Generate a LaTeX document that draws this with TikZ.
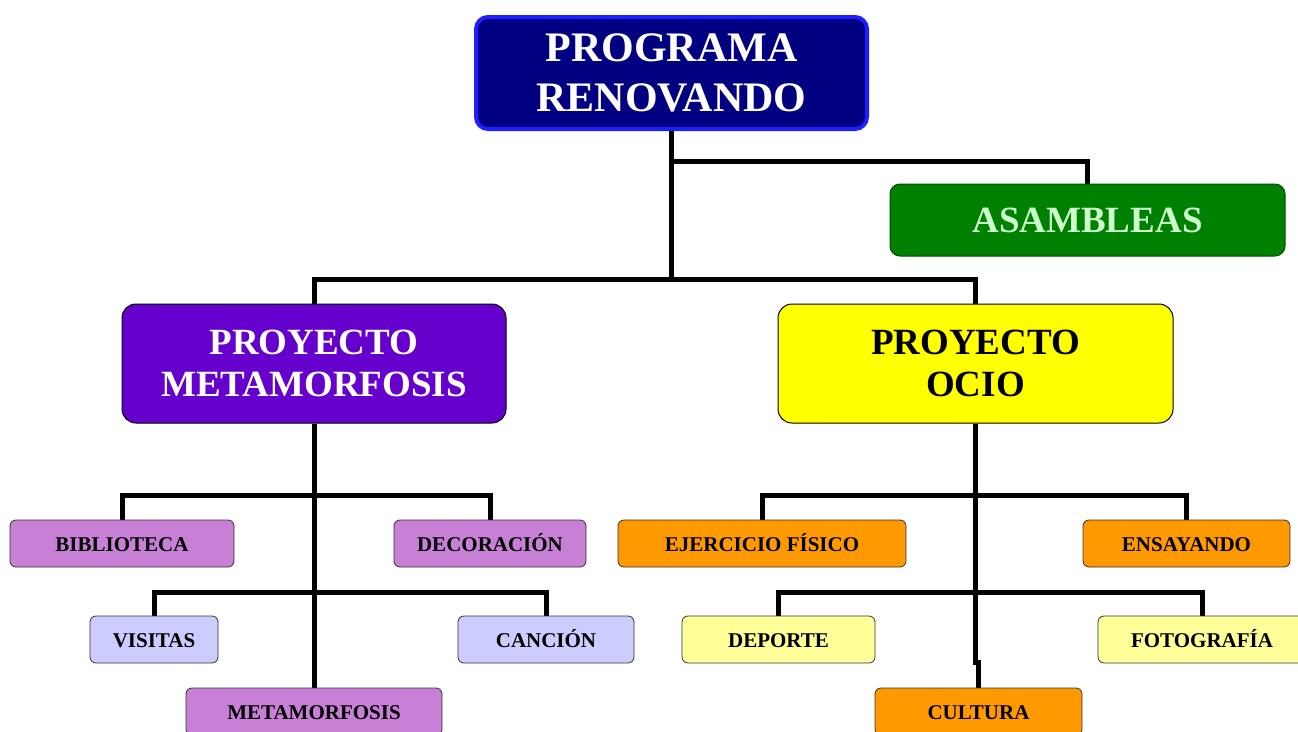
\documentclass[tikz,border=0pt]{standalone}
\usepackage{fontspec}
\setmainfont{Liberation Serif}
\usetikzlibrary{backgrounds}
\definecolor{navybox}{RGB}{0,0,128}
\definecolor{navyedge}{RGB}{30,30,255}
\definecolor{greenbox}{RGB}{0,128,0}
\definecolor{greentext}{RGB}{204,255,204}
\definecolor{purplebox}{RGB}{102,0,204}
\definecolor{yellowbox}{RGB}{255,255,0}
\definecolor{lilacbox}{RGB}{200,128,214}
\definecolor{bluebox}{RGB}{204,204,255}
\definecolor{orangebox}{RGB}{255,153,0}
\definecolor{paleyellow}{RGB}{255,255,153}
\tikzset{
  bigbox/.style={draw=black, line width=1pt, rounded corners=14pt, inner sep=0pt, align=center,
    font=\fontsize{37}{42}\selectfont\bfseries},
  smallbox/.style={draw=black!80, line width=0.8pt, rounded corners=6pt, inner sep=0pt, align=center,
    minimum height=47pt, text height=15pt, text depth=0pt, font=\fontsize{21}{24}\selectfont\bfseries},
  conn/.style={line width=5pt, line join=miter, line cap=butt}
}
\begin{document}
\begin{tikzpicture}[x=1pt,y=-1pt]
\useasboundingbox (0,0) rectangle (1298,731);
\clip (0,0) rectangle (1298,731);

\node[draw=navyedge, fill=navybox, line width=4pt, rounded corners=12pt, inner sep=0pt,
  minimum width=391pt, minimum height=112pt, text=white, align=center,
  font=\fontsize{42}{50}\selectfont\bfseries] (top) at (671.5,73) {PROGRAMA\\RENOVANDO};

\node[bigbox, draw=black!70!green, fill=greenbox, text=greentext, rounded corners=10pt,
  minimum width=395pt, minimum height=72pt] (asam) at (1087.5,220) {ASAMBLEAS};

\node[bigbox, fill=purplebox, text=white, minimum width=384pt, minimum height=119pt] (pm) at (314,363.5) {PROYECTO\\METAMORFOSIS};
\node[bigbox, fill=yellowbox, text=black, minimum width=395pt, minimum height=119pt] (po) at (975.5,363.5) {PROYECTO\\OCIO};

\node[smallbox, fill=lilacbox, minimum width=224pt] (bib) at (122,543.5) {BIBLIOTECA};
\node[smallbox, fill=lilacbox, minimum width=192pt] (deco) at (490,543.5) {DECORACIÓN};
\node[smallbox, fill=bluebox, minimum width=128pt] (vis) at (154,639.5) {VISITAS};
\node[smallbox, fill=bluebox, minimum width=176pt] (can) at (546,639.5) {CANCIÓN};
\node[smallbox, fill=lilacbox, minimum width=256pt] (meta) at (314,711.5) {METAMORFOSIS};

\node[smallbox, fill=orangebox, minimum width=288pt] (ejer) at (762,543.5) {EJERCICIO FÍSICO};
\node[smallbox, fill=orangebox, minimum width=207pt] (ens) at (1186.5,543.5) {ENSAYANDO};
\node[smallbox, fill=paleyellow, minimum width=193pt] (dep) at (778.5,639.5) {DEPORTE};
\node[smallbox, fill=paleyellow, minimum width=208pt] (foto) at (1202,639.5) {FOTOGRAFÍA};
\node[smallbox, fill=orangebox, minimum width=207pt] (cult) at (978.5,711.5) {CULTURA};

\begin{scope}[on background layer]
  \draw[conn] (top.south) -- ++(0,30) -| (asam.north);
  \draw[conn] (top.south) -- ++(0,148) coordinate (j1);
  \draw[conn] (j1) -| (pm.north);
  \draw[conn] (j1) -| (po.north);

  \draw[conn] (pm.south) -- (meta.north);
  \path (pm.south) ++(0,72) coordinate (pa);
  \path (pm.south) ++(0,169) coordinate (pb);
  \draw[conn] (pa) -| (bib.north);
  \draw[conn] (pa) -| (deco.north);
  \draw[conn] (pb) -| (vis.north);
  \draw[conn] (pb) -| (can.north);

  \draw[conn] (po.south) -- ++(0,239) -| (cult.north);
  \path (po.south) ++(0,72) coordinate (pc);
  \path (po.south) ++(0,169) coordinate (pd);
  \draw[conn] (pc) -| (ejer.north);
  \draw[conn] (pc) -| (ens.north);
  \draw[conn] (pd) -| (dep.north);
  \draw[conn] (pd) -| (foto.north);
\end{scope}
\end{tikzpicture}
\end{document}
